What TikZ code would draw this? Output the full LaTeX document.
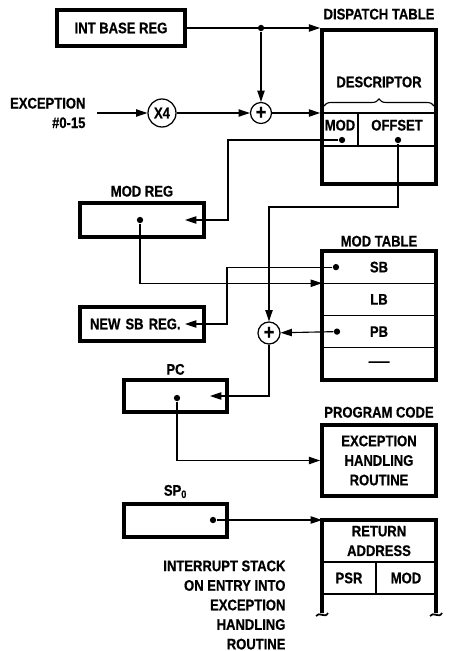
\documentclass[tikz,border=0pt]{standalone}
\usepackage{fontspec}
\setmainfont[FakeStretch=0.85, BoldFeatures={FakeBold=0.6}]{Liberation Sans}
\usepackage{graphicx}
\usetikzlibrary{arrows.meta,positioning,calc,decorations.pathreplacing}

\begin{document}
\begin{tikzpicture}[x=0.025cm, y=-0.025cm, line width=0.8pt,
    font=\fontsize{10.9pt}{13.9pt}\selectfont\bfseries,
    >={Triangle[length=8pt,width=5.2pt]},
    regbox/.style={draw, line width=2.6pt, minimum height=0.85cm, inner sep=0pt},
    tabbox/.style={draw, line width=2.6pt, minimum width=2.85cm, inner sep=0pt},
    cell/.style={draw, line width=0.8pt, inner sep=0pt, outer sep=0pt, minimum height=0.806cm},
    cellup/.style={cell, minimum height=0.825cm, text height=7.8pt, text depth=6.4pt},
    lbl/.style={inner sep=0pt},
    op/.style={draw, circle, line width=0.9pt, inner sep=0pt},
    sum/.style={op, font=\fontsize{15pt}{15pt}\selectfont\bfseries},
    dot/.style={circle, fill, inner sep=0pt, minimum size=4.5pt}]

  \useasboundingbox (0,0) rectangle (449,651);

  % input side
  \node[regbox, minimum width=3.2cm, minimum height=0.9cm] (intbase) at (121,28) {INT BASE REG};
  \node[lbl, align=right, anchor=east] (excin) at (86,113) {EXCEPTION\\\#0-15};
  \node[op, minimum size=0.7cm] (x4) at (162,113) {X4};
  \node[sum, minimum size=0.525cm] (plus1) at (261,113) {+};
  \node[dot] (j1) at (plus1 |- intbase) {};

  % dispatch table
  \node[cellup, minimum width=0.9cm] (modcell) at (340,129.5) {MOD};
  \node[cellup, minimum width=1.95cm] (offcell) at (397,129.5) {OFFSET};
  \node[tabbox, minimum height=3.85cm] (dispatch) at (379,107) {};
  \node[lbl, above=5.7pt of dispatch] (dispatchlbl) {DISPATCH TABLE};
  \node[lbl] (descr) at (379,82) {DESCRIPTOR};
  \draw[decorate, decoration={brace, amplitude=5pt}] (324,106) -- (434,106);
  \node[dot] (moddot) at (342,140) {};
  \node[dot] (offdot) at (398,140) {};

  % mod table
  \node[cell, minimum width=2.85cm] (sb) at (379,267.1) {SB};
  \node[cell, minimum width=2.85cm, below=0pt of sb] (lb) {LB};
  \node[cell, minimum width=2.85cm, below=0pt of lb] (pb) {PB};
  \node[cell, minimum width=2.85cm, below=0pt of pb] (nil) {\scalebox{1.6}[1]{—}};
  \node[tabbox, minimum height=3.225cm] (modtab) at (379,315.5) {};
  \node[lbl, above=1.4pt of modtab] (modtablbl) {MOD TABLE};
  \node[dot] (sbdot) at ($(sb.west)+(14,0)$) {};
  \node[dot] (pbdot) at ($(pb.west)+(15,0)$) {};

  % registers
  \node[regbox, minimum width=3.1cm] (modreg) at (142,220) {};
  \node[lbl, above=2.8pt of modreg] (modreglbl) {MOD REG};
  \node[dot] (mrdot) at (140,220) {};
  \node[regbox, minimum width=3.1cm, text width=2.6cm, align=left] (newsb) at (142,324) {NEW SB REG.};
  \node[sum, minimum size=0.55cm] (plus2) at (269,333) {+};
  \node[regbox, minimum width=2.575cm, minimum height=0.8cm] (pc) at (175.5,396) {};
  \node[lbl, above=2pt of pc] (pclbl) {PC};
  \node[dot] (pcdot) at (177,398) {};

  % program code
  \node[tabbox, minimum height=1.775cm, align=center] (progcode) at (379,460.5) {EXCEPTION\\HANDLING\\ROUTINE};
  \node[lbl, above=3.5pt of progcode] (progcodelbl) {PROGRAM CODE};

  % interrupt stack
  \node[regbox, minimum width=2.575cm, minimum height=0.825cm] (sp) at (175.5,520.5) {};
  \node[lbl, above=2.5pt of sp] (splbl) {SP\textsubscript{0}};
  \node[dot] (spdot) at (213,520) {};
  \node[cell, minimum width=2.85cm, minimum height=1.05cm, align=center] (retaddr) at (379,541) {RETURN\\ADDRESS};
  \node[cell, minimum width=1.35cm, minimum height=0.8cm] (psr) at (349,578) {PSR};
  \node[cell, minimum width=1.5cm, minimum height=0.8cm] (smod) at (406,578) {MOD};
  \coordinate (stkl) at (322,613);
  \coordinate (stkr) at (436,613);
  \draw[line width=2.6pt] (stkl) -- (retaddr.north west) -- (retaddr.north east) -- (stkr);
  \draw[line width=1.2pt] ($(stkl)+(-6,3)$) .. controls ($(stkl)+(-3,-2)$) and ($(stkl)+(3,6)$) .. ($(stkl)+(6,0)$);
  \draw[line width=1.2pt] ($(stkr)+(-6,3)$) .. controls ($(stkr)+(-3,-2)$) and ($(stkr)+(3,6)$) .. ($(stkr)+(6,0)$);
  \node[lbl, align=right, anchor=east] (stacknote) at (286,605) {INTERRUPT STACK\\ON ENTRY INTO\\EXCEPTION\\HANDLING\\ROUTINE};

  % free ends
  \coordinate (modbus) at (228,220);
  \coordinate (modin) at (185,220);
  \coordinate (sbbus) at (227,324);
  \coordinate (sbin) at (185,324);
  \coordinate (offrun) at (269,207);
  \coordinate (pcin) at (210,396);

  % connectors
  \draw[->] (intbase) -- (intbase -| dispatch.west);
  \draw[->] (j1) -- (plus1);
  \draw[->, shorten <=8pt] (excin) -- (x4);
  \draw[->] (x4) -- (plus1);
  \draw[->] (plus1) -- (plus1 -| dispatch.west);
  \draw[->] (moddot) -| (modbus) -- (modin);
  \draw[->] (mrdot) |- (sb.south west);
  \draw[->] (sbdot) -| (sbbus) -- (sbin);
  \draw[->] (offdot) |- (offrun) -- (plus2);
  \draw[->] (pbdot) -- (plus2);
  \draw[->] (plus2) |- (pcin);
  \draw[->] (pcdot) |- (progcode.west);
  \draw[->] (spdot) -- (spdot -| retaddr.west);
\end{tikzpicture}
\end{document}
